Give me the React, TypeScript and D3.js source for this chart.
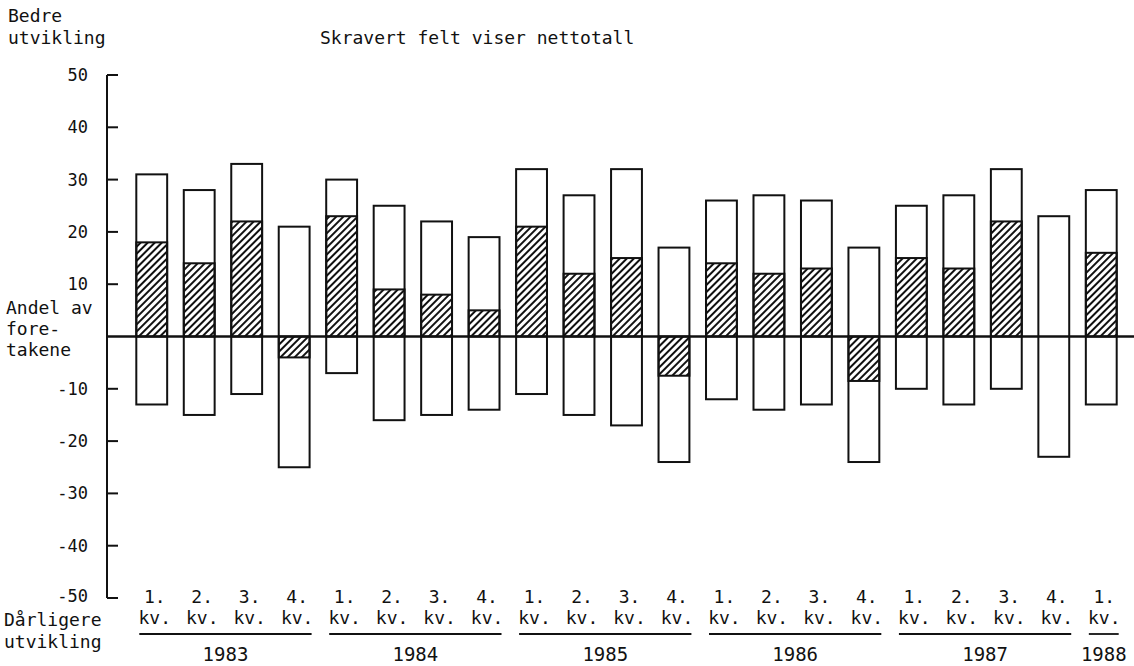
import React from 'react'
import * as d3 from 'd3'

// quarterly survey: share of firms reporting better / worse development
const quarters = ['1.', '2.', '3.', '4.', '1.', '2.', '3.', '4.', '1.', '2.', '3.', '4.',
  '1.', '2.', '3.', '4.', '1.', '2.', '3.', '4.', '1.']
const years = ['1983', '1983', '1983', '1983', '1984', '1984', '1984', '1984',
  '1985', '1985', '1985', '1985', '1986', '1986', '1986', '1986',
  '1987', '1987', '1987', '1987', '1988']
const better = [31, 28, 33, 21, 30, 25, 22, 19, 32, 27, 32, 17, 26, 27, 26, 17, 25, 27, 32, 23, 28]
const worse = [-13, -15, -11, -25, -7, -16, -15, -14, -11, -15, -17, -24, -12, -14, -13, -24, -10, -13, -10, -23, -13]
const net = [18, 14, 22, -4, 23, 9, 8, 5, 21, 12, 15, -7.5, 14, 12, 13, -8.5, 15, 13, 22, 0, 16]

const W = 1134
const H = 666
const FONT = '"DejaVu Sans Mono", "Liberation Mono", monospace'
const axisX = 107

export default function App() {
  const idx = d3.range(better.length)

  const x = d3.scaleBand<number>()
    .domain(idx)
    .range([128, 1125])
    .paddingInner(0.35)
    .paddingOuter(0.175)

  const y = d3.scaleLinear()
    .domain([-50, 50])
    .range([598, 75])

  const bw = x.bandwidth()
  const yearGroups = d3.groups(idx, (i) => years[i])

  return (
    <svg width={W} height={H} style={{ position: 'absolute', left: 0, top: 0, background: '#fff' }}
      fontFamily={FONT} fill="#111">
      <defs>
        <pattern id="hatch" width="5" height="5" patternUnits="userSpaceOnUse"
          patternTransform="rotate(45)">
          <line x1="1" y1="0" x2="1" y2="5" stroke="#111" strokeWidth="2" />
        </pattern>
      </defs>

      {/* corner texts */}
      <text x={8} y={22} fontSize={18}>Bedre</text>
      <text x={8} y={44} fontSize={18}>utvikling</text>
      <text x={320} y={44} fontSize={18}>Skravert felt viser nettotall</text>

      <text x={6} y={314} fontSize={18}>Andel av</text>
      <text x={6} y={335} fontSize={18}>fore-</text>
      <text x={6} y={356} fontSize={18}>takene</text>

      <text x={4} y={626} fontSize={18}>Dårligere</text>
      <text x={4} y={648} fontSize={18}>utvikling</text>

      {/* y axis (no label at 0, the axis title sits there) */}
      <line x1={axisX} x2={axisX} y1={y(50)} y2={y(-50)} stroke="#111" strokeWidth={2} />
      {y.ticks(10).filter((t) => t !== 0).map((t) => (
        <g key={t}>
          <line x1={axisX} x2={axisX + 11} y1={y(t)} y2={y(t)} stroke="#111" strokeWidth={2} />
          <text x={88} y={t === -50 ? y(t) - 2 : y(t)} dy="0.35em" textAnchor="end" fontSize={17}>{t}</text>
        </g>
      ))}

      {/* bars */}
      {idx.map((i) => (
        <g key={i}>
          <rect x={x(i)} y={y(better[i])} width={bw} height={y(worse[i]) - y(better[i])}
            fill="#fff" stroke="#111" strokeWidth={2} />
          {net[i] !== 0 && (
            <rect x={x(i)} y={y(Math.max(0, net[i]))} width={bw}
              height={Math.abs(y(net[i]) - y(0))}
              fill="url(#hatch)" stroke="#111" strokeWidth={2} />
          )}
        </g>
      ))}

      {/* zero line */}
      <line x1={axisX} x2={W} y1={y(0)} y2={y(0)} stroke="#111" strokeWidth={2.5} />

      {/* quarter labels */}
      {idx.map((i) => (
        <g key={'q' + i} fontSize={18}>
          <text x={x(i)! + bw / 2 + 3} y={603} textAnchor="middle">{quarters[i]}</text>
          <text x={x(i)! + bw / 2 + 3} y={624} textAnchor="middle">kv.</text>
        </g>
      ))}

      {/* year groups */}
      {yearGroups.map(([yr, list]) => {
        const x0 = x(list[0])! + 3
        const x1 = x(list[list.length - 1])! + bw + 2
        return (
          <g key={yr}>
            <line x1={x0} x2={x1} y1={634} y2={634} stroke="#111" strokeWidth={1.8} />
            <text x={(x0 + x1) / 2} y={661} textAnchor="middle" fontSize={19}>{yr}</text>
          </g>
        )
      })}
    </svg>
  )
}
